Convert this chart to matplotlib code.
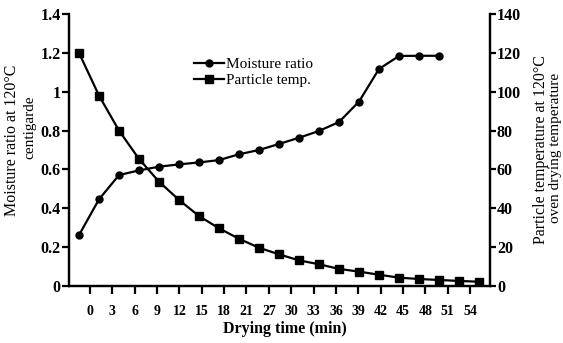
import numpy as np
import matplotlib.pyplot as plt

plt.rcParams['font.family'] = ['Liberation Serif', 'DejaVu Serif']

# dane
moisture_ratio = [0.262, 0.446, 0.571, 0.595, 0.614, 0.626, 0.636, 0.648, 0.678, 0.700,
                  0.731, 0.763, 0.798, 0.844, 0.949, 1.117, 1.184, 1.185, 1.185]
particle_temp = [120, 98, 80, 65.4, 53.7, 44.3, 36.0, 29.7, 24.3, 19.7, 16.3, 13.2,
                 11.2, 8.8, 7.4, 5.8, 4.3, 3.6, 3.1, 2.6, 2.2]
tick_labels = ['0', '3', '6', '9', '12', '15', '18', '21', '27', '30', '33', '36',
               '39', '42', '45', '48', '51', '54']
left_ticks = [0, 0.2, 0.4, 0.6, 0.8, 1.0, 1.2, 1.4]
left_tick_labels = ['0', '0.2', '0.4', '0.6', '0.8', '1', '1.2', '1.4']
right_ticks = [0, 20, 40, 60, 80, 100, 120, 140]

x_m = np.arange(len(moisture_ratio))
x_t = np.arange(len(particle_temp))

W, H = 563, 343
fig = plt.figure(figsize=(W / 100, H / 100), dpi=100)
ax = fig.add_axes([69 / W, 1 - 286 / H, (490 - 69) / W, (286 - 14) / H])
ax2 = ax.twinx()

l1, = ax.plot(x_m, moisture_ratio, 'k-', marker='o', ms=5, lw=1.6, label='Moisture ratio')
l2, = ax2.plot(x_t, particle_temp, 'k-', marker='s', ms=5.5, lw=1.6, label='Particle temp.')

ax.set_xlim(-0.5, 20.55)
ax.set_ylim(0, 1.4)
ax2.set_ylim(0, 140)

ax.set_xticks(np.linspace(0.55, 19.55, len(tick_labels)))
ax.set_xticklabels(tick_labels, fontsize=10, fontweight='bold')
ax.set_yticks(left_ticks)
ax.set_yticklabels(left_tick_labels, fontsize=11.5, fontweight='bold')
ax2.set_yticks(right_ticks)
ax2.set_yticklabels([str(t) for t in right_ticks], fontsize=11.5, fontweight='bold')

for a in (ax, ax2):
    a.spines['top'].set_visible(False)
    for s in ('left', 'right', 'bottom'):
        a.spines[s].set_linewidth(1.6)
ax.tick_params(axis='y', length=5, width=1.6, pad=1)
ax.tick_params(axis='x', length=6, width=1.6, pad=8)
ax2.tick_params(axis='y', length=4, width=1.6, pad=1)

fig.legend(handles=[l1, l2], loc='upper left', bbox_to_anchor=(186 / W, 1 - 50 / H),
           frameon=False, fontsize=11, handlelength=2.0, handletextpad=0.1,
           labelspacing=0.15, borderpad=0)

# opisy osi
fig.text(285 / W, 1 - 329 / H, 'Drying time (min)', ha='center', va='center',
         fontsize=11.5, fontweight='bold')
fig.text(12 / W, 1 - 140 / H, 'Moisture ratio at 120°C', rotation=90,
         ha='center', va='center', fontsize=11.5)
fig.text(30 / W, 1 - 127 / H, 'centigarde', rotation=90,
         ha='center', va='center', fontsize=11)
fig.text(541 / W, 1 - 150 / H, 'Particle temperature at 120°C', rotation=90,
         ha='center', va='center', fontsize=11.5)
fig.text(555 / W, 1 - 148 / H, 'oven drying temperature', rotation=90,
         ha='center', va='center', fontsize=11)

fig.savefig('out.png', dpi=100)
